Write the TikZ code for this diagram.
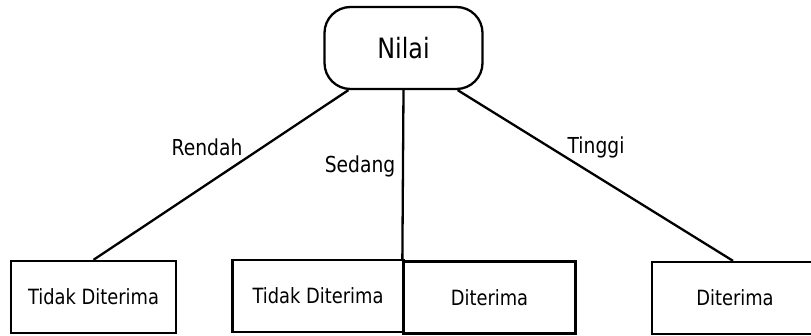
\documentclass[tikz,border=0pt]{standalone}
\usepackage{fontspec}
\setmainfont[FakeStretch=0.85]{DejaVu Sans}
\begin{document}
\begin{tikzpicture}[x=1pt,y=-1pt,
  leaf/.style={draw, line width=2.3pt, minimum height=72pt, inner sep=0pt, font=\fontsize{21}{24}\selectfont},
  root/.style={draw, line width=2.3pt, rounded corners=26pt, minimum width=158pt, minimum height=82pt, inner sep=0pt, font=\fontsize{28}{32}\selectfont},
  link/.style={line width=2.3pt},
  lbl/.style={font=\fontsize{22}{26}\selectfont, inner sep=0pt}]
\useasboundingbox (0,0) rectangle (811,336);

\node[root] (nilai) at (403.5,48) {Nilai};

\node[leaf, minimum width=165pt] (b1) at (93.5,297) {Tidak Diterima};
\node[leaf, minimum width=171pt] (b2) at (318,296) {Tidak Diterima};
\node[leaf, minimum width=172pt] (b3) at (489.5,297.5) {Diterima};
\node[leaf, minimum width=166pt] (b4) at (735,298) {Diterima};

\draw[link] ([xshift=25pt]nilai.south west) -- (b1.north);
\draw[link] (nilai.south) -- (b3.north west);
\draw[link] ([xshift=-26pt]nilai.south east) -- ([xshift=-2pt]b4.north);

\node[lbl] (rendah) at (207,147) {Rendah};
\node[lbl] (sedang) at (360,166) {Sedang};
\node[lbl] (tinggi) at (596,147) {Tinggi};
\end{tikzpicture}
\end{document}
